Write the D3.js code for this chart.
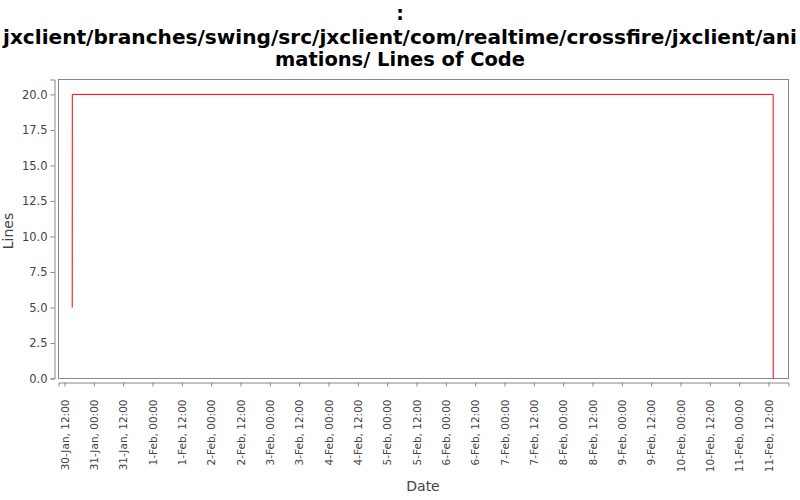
<!DOCTYPE html>
<html><head><meta charset="utf-8">
<script src="https://cdn.jsdelivr.net/npm/d3@7"></script>
<style>body{margin:0;background:#fff}svg{display:block}</style>
</head><body><svg id="c" width="800" height="500"></svg>
<script>
const titleLines = [":", "jxclient/branches/swing/src/jxclient/com/realtime/crossfire/jxclient/ani", "mations/ Lines of Code"];
const dates = ["2008-01-30T15:10", "2008-01-30T15:12", "2008-02-11T13:55", "2008-02-11T13:57"];
const values = [5, 20, 20, 0];
const yTicks = [0, 2.5, 5, 7.5, 10, 12.5, 15, 17.5, 20];
const xDomain = ["2008-01-30T09:33", "2008-02-11T20:11"];
const yDomain = [0, 21.05];

const parse = d3.timeParse("%Y-%m-%dT%H:%M");
const data = dates.map((d, i) => ({t: parse(d), v: values[i]}));

const svg = d3.select("#c");
const L = 58.5, R = 788.5, T = 79.5, B = 378.5;
const x = d3.scaleTime().domain(xDomain.map(parse)).range([L, R]);
const y = d3.scaleLinear().domain(yDomain).range([B, T]);

const font = "'DejaVu Sans', sans-serif";
const tl = svg.append("g").attr("font-family", font).attr("font-weight", "bold")
  .attr("font-size", 19).attr("text-anchor", "middle").attr("fill", "#000");
const tlen = [null, 794, 250];
[20, 44, 66].forEach((yy, i) => tl.append("text").attr("x", 400).attr("y", yy)
  .attr("textLength", tlen[i]).attr("lengthAdjust", "spacingAndGlyphs").text(titleLines[i]));

svg.append("rect").attr("x", L).attr("y", T).attr("width", R - L).attr("height", B - T)
  .attr("fill", "#fff").attr("stroke", "#888").attr("stroke-width", 1);

// Y axis
const yAxis = svg.append("g").attr("transform", `translate(${L - 4},0)`)
  .call(d3.axisLeft(y).tickValues(yTicks).tickFormat(d3.format(".1f")).tickSizeOuter(0).tickSize(4).tickPadding(3));
yAxis.select(".domain").attr("stroke", "#888");
yAxis.selectAll(".tick line").attr("stroke", "#888");
yAxis.selectAll("text").attr("font-family", font).attr("font-size", 11.5).attr("fill", "#444");

// X axis
const xTicks = d3.timeHour.every(12).range(parse("2008-01-30T12:00"), parse("2008-02-11T12:01"));
const fmt = d3.timeFormat("%-d-%b, %H:%M");
const xAxis = svg.append("g").attr("transform", `translate(0,${B + 4})`)
  .call(d3.axisBottom(x).tickValues(xTicks).tickFormat(fmt).tickSizeOuter(0).tickSize(4));
xAxis.select(".domain").attr("stroke", "#888");
xAxis.selectAll(".tick line").attr("stroke", "#888");
xAxis.selectAll("text").attr("font-family", font).attr("font-size", 10.5).attr("fill", "#444")
  .attr("text-anchor", "end").attr("transform", "rotate(-90)")
  .attr("x", -17).attr("y", 0).attr("dy", "0.35em");

// Line
const line = d3.line().x(d => x(d.t)).y(d => y(d.v));
svg.append("path").datum(data).attr("d", line).attr("fill", "none").attr("stroke", "#f00").attr("stroke-width", 1);

// Axis labels
svg.append("text").attr("transform", "translate(13,231) rotate(-90)").attr("text-anchor", "middle")
  .attr("font-family", font).attr("font-size", 14).attr("fill", "#444").text("Lines");
svg.append("text").attr("x", 423).attr("y", 491).attr("text-anchor", "middle")
  .attr("font-family", font).attr("font-size", 14).attr("fill", "#444").text("Date");
</script></body></html>
